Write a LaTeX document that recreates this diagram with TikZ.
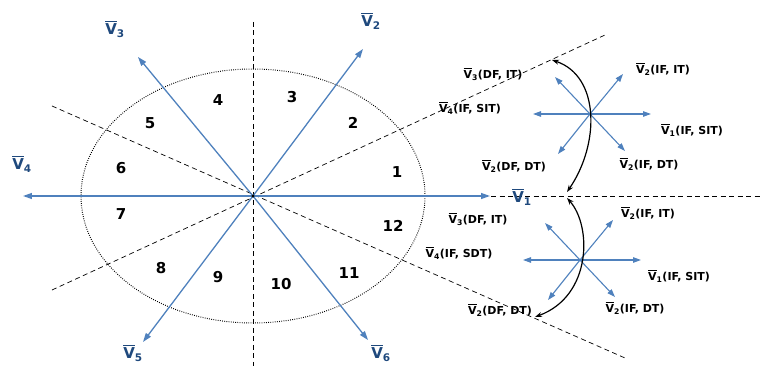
\documentclass[tikz,border=0pt]{standalone}
\usepackage{amsmath}
\usepackage{fontspec}
\setmainfont{DejaVu Sans}
\usepackage{tikz}
\usetikzlibrary{arrows.meta,calc}
\usepackage{xcolor}
\definecolor{vecblue}{RGB}{79,129,189}
\definecolor{labblue}{RGB}{31,73,125}
\newcommand{\vbar}[1]{$\overline{\textbf{V}}_{\textbf{#1}}$}
\newcommand{\vsw}[2]{\vbar{#1}\textbf{(#2)}}

\begin{document}
\begin{tikzpicture}[x=1pt,y=1pt,
    sector/.style={black,line width=0.7pt,dash pattern=on 5pt off 3.5pt},
    vec/.style={vecblue,line width=1.3pt,-{Triangle[length=9pt,width=6pt]}},
    swvec/.style={vecblue,line width=1.1pt,-{Triangle[length=8pt,width=5.5pt]}},
    move/.style={black,line width=1.2pt,{Stealth[length=7pt,width=5pt]}-{Stealth[length=7pt,width=5pt]}},
    vlabel/.style={font=\fontsize{15}{15}\selectfont,labblue},
    seclabel/.style={font=\fontsize{15}{15}\selectfont\bfseries},
    swlabel/.style={font=\fontsize{11}{11}\selectfont,inner sep=0pt}]
  \useasboundingbox (-253,-170) rectangle (508,196);
  \coordinate (O) at (0,0);
  % sector borders and circle
  \draw[black,line width=1pt,dash pattern=on 0.8pt off 1.4pt] (O) ellipse [x radius=172,y radius=127];
  \draw[sector] (0,174) -- (0,-170);
  \draw[sector] (-201,90) -- (372,-162);
  \draw[sector] (-201,-94) -- (352,161);
  \draw[sector] (O) -- (508,0);
  % basic voltage vectors
  \foreach \n/\p/\l in {1/{237,0}/{269,-1},2/{110,147}/{118,175},3/{-115,139}/{-138,167},
                        4/{-230,0}/{-231,32},5/{-110,-146}/{-120,-157},6/{115,-144}/{128,-157}} {
    \coordinate (v\n) at (\p);
    \draw[vec] (O) -- (v\n);
    \node[vlabel] (lv\n) at (\l) {\vbar{\n}};
  }
  \fill (O) circle (1.6pt);
  % sector numbers
  \foreach \s/\p in {1/{144,24},2/{100,73},3/{39,99},4/{-35,96},5/{-103,73},6/{-132,28},
                     7/{-132,-18},8/{-92,-72},9/{-35,-81},10/{28,-88},11/{96,-77},12/{140,-30}}
    \node[seclabel] (s\s) at (\p) {\s};
  % switching stars
  \coordinate (up) at (337,82);
  \coordinate (dn) at (327,-64);
  \foreach \c in {up,dn} {
    \draw[swvec] (\c) -- ++(61,0);
    \draw[swvec] (\c) -- ++(-57,0);
    \draw[swvec] (\c) -- ++(33,40);
    \draw[swvec] (\c) -- ++(-35,37);
    \draw[swvec] (\c) -- ++(-32,-40);
    \draw[swvec] (\c) -- ++(35,-37);
  }
  % upper star labels
  \node[swlabel] (u1) at (410,127) {\vsw{2}{IF, IT}};
  \node[swlabel] (u2) at (439,66) {\vsw{1}{IF, SIT}};
  \node[swlabel] (u3) at (396,32) {\vsw{2}{IF, DT}};
  \node[swlabel] (u4) at (261,30) {\vsw{2}{DF, DT}};
  \node[swlabel] (u5) at (217,88) {\vsw{4}{IF, SIT}};
  \node[swlabel] (u6) at (240,122) {\vsw{3}{DF, IT}};
  % lower star labels
  \node[swlabel] (d1) at (395,-17) {\vsw{2}{IF, IT}};
  \node[swlabel] (d2) at (225,-23) {\vsw{3}{DF, IT}};
  \node[swlabel] (d3) at (206,-57) {\vsw{4}{IF, SDT}};
  \node[swlabel] (d4) at (426,-80) {\vsw{1}{IF, SIT}};
  \node[swlabel] (d5) at (382,-112) {\vsw{2}{IF, DT}};
  \node[swlabel] (d6) at (247,-114) {\vsw{2}{DF, DT}};
  % sector change arcs
  \coordinate (ua) at (299,136);
  \coordinate (ub) at (314,4);
  \coordinate (da) at (314,-2);
  \coordinate (db) at (282,-121);
  \draw[move] (ua) .. controls (347,120) and (347,52) .. (ub);
  \draw[move] (da) .. controls (339,-30) and (339,-100) .. (db);
\end{tikzpicture}
\end{document}
